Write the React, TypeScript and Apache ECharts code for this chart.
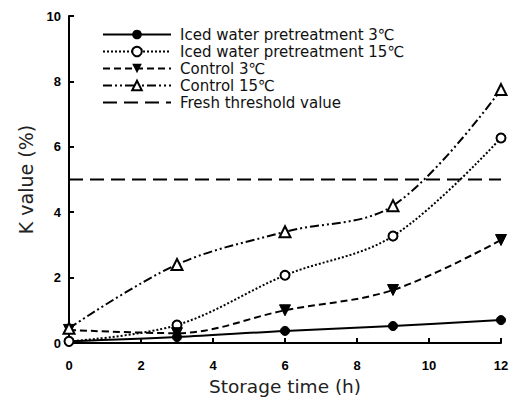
import React, { useEffect, useRef } from "react";
import * as echarts from "echarts";

const hours = [0, 3, 6, 9, 12];
const iced3 = [0.05, 0.18, 0.37, 0.52, 0.7];
const iced15 = [0.05, 0.55, 2.07, 3.27, 6.27];
const control3 = [0.4, 0.3, 1.0, 1.62, 3.15];
const control15 = [0.45, 2.4, 3.4, 4.2, 7.75];
const thresholdX = [0, 12];
const thresholdY = [5, 5];
const seriesNames = [
  "Iced water pretreatment 3℃",
  "Iced water pretreatment 15℃",
  "Control 3℃",
  "Control 15℃",
  "Fresh threshold value",
];

const pairs = (xs: number[], ys: number[]) => xs.map((x, i) => [x, ys[i]]);

export default function App() {
  const ref = useRef<HTMLDivElement>(null);
  useEffect(() => {
    if (!ref.current) return;
    const chart = echarts.init(ref.current, undefined, { renderer: "svg" });
    const font = "'Liberation Sans', Arial, sans-serif";
    const wide = "'DejaVu Sans', sans-serif";
    const base = { type: "line", smooth: 0.35, symbolSize: 9, z: 3 } as any;
    chart.setOption({
      animation: false,
      backgroundColor: "#fff",
      textStyle: { fontFamily: font },
      grid: { left: 69, right: 17, top: 16, bottom: 60 },
      legend: {
        orient: "vertical",
        left: 97,
        top: 22,
        itemWidth: 68,
        itemHeight: 12,
        itemGap: 2,
        textStyle: { fontSize: 15, lineHeight: 15, color: "#111", fontFamily: wide, padding: [0, 0, 0, 4] },
        data: [
          seriesNames[0],
          seriesNames[1],
          seriesNames[2],
          seriesNames[3],
          { name: seriesNames[4], itemStyle: { opacity: 0 } },
        ],
      },
      xAxis: {
        type: "value",
        min: 0,
        max: 12,
        interval: 2,
        name: "Storage time (h)",
        nameLocation: "middle",
        nameGap: 28,
        nameTextStyle: { fontSize: 18.5, color: "#222", fontFamily: wide },
        axisLine: { lineStyle: { color: "#000", width: 2 } },
        axisTick: { inside: true, length: 5, lineStyle: { color: "#000", width: 2 } },
        axisLabel: { fontSize: 13, fontWeight: "bold", color: "#000", margin: 16 },
        splitLine: { show: false },
      },
      yAxis: {
        type: "value",
        min: 0,
        max: 10,
        interval: 2,
        name: "K value (%)",
        nameLocation: "middle",
        nameGap: 34,
        nameRotate: 90,
        nameTextStyle: { fontSize: 19, color: "#222", fontFamily: wide },
        axisLine: { show: true, lineStyle: { color: "#000", width: 2 } },
        axisTick: { show: true, inside: true, length: 5, lineStyle: { color: "#000", width: 2 } },
        axisLabel: { fontSize: 13, fontWeight: "bold", color: "#000", margin: 8 },
        splitLine: { show: false },
      },
      series: [
        {
          ...base,
          name: seriesNames[0],
          data: pairs(hours, iced3),
          symbol: "circle",
          itemStyle: { color: "#000", borderColor: "#000" },
          lineStyle: { color: "#000", width: 2, type: "solid" },
        },
        {
          ...base,
          name: seriesNames[1],
          data: pairs(hours, iced15),
          symbol: "circle",
          itemStyle: { color: "#fff", borderColor: "#000", borderWidth: 2 },
          lineStyle: { color: "#000", width: 2, type: [2, 2] },
        },
        {
          ...base,
          name: seriesNames[2],
          data: pairs(hours, control3),
          symbol: "triangle",
          symbolRotate: 180,
          symbolSize: 11,
          itemStyle: { color: "#000", borderColor: "#000" },
          lineStyle: { color: "#000", width: 2, type: [7, 4] },
        },
        {
          ...base,
          name: seriesNames[3],
          data: pairs(hours, control15),
          symbol: "triangle",
          symbolSize: 11,
          itemStyle: { color: "#fff", borderColor: "#000", borderWidth: 2 },
          lineStyle: { color: "#000", width: 2, type: [9, 3, 2, 3, 2, 3] },
        },
        {
          type: "line",
          name: seriesNames[4],
          data: pairs(thresholdX, thresholdY),
          symbol: "none",
          z: 2,
          itemStyle: { color: "#000" },
          lineStyle: { color: "#000", width: 2, type: [14, 7] },
        },
      ],
    });
    return () => chart.dispose();
  }, []);
  return <div ref={ref} style={{ width: 518, height: 403, position: "absolute", left: 0, top: 0 }} />;
}
